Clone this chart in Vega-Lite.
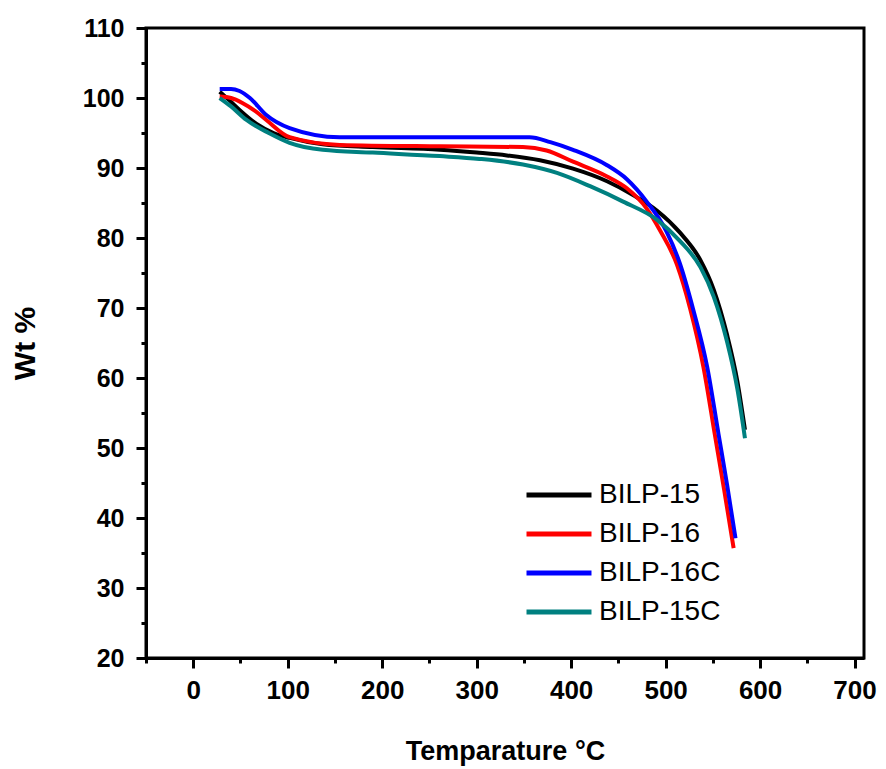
{
  "$schema": "https://vega.github.io/schema/vega-lite/v6.json",
  "width": 718,
  "height": 630,
  "autosize": {"type": "none"},
  "padding": {"left": 146, "top": 28, "right": 22, "bottom": 111},
  "background": "white",
  "config": {
    "view": {"stroke": "black", "strokeWidth": 3},
    "font": "Liberation Sans"
  },
  "data": {
    "values": [
      {"s": "BILP-15", "t": 28, "w": 100.9},
      {"s": "BILP-15", "t": 38, "w": 99.7},
      {"s": "BILP-15", "t": 49, "w": 98.3},
      {"s": "BILP-15", "t": 67, "w": 96.3},
      {"s": "BILP-15", "t": 85, "w": 95.0},
      {"s": "BILP-15", "t": 102, "w": 94.3},
      {"s": "BILP-15", "t": 137, "w": 93.4},
      {"s": "BILP-15", "t": 190, "w": 93.0},
      {"s": "BILP-15", "t": 261, "w": 92.6},
      {"s": "BILP-15", "t": 300, "w": 92.2},
      {"s": "BILP-15", "t": 332, "w": 91.8},
      {"s": "BILP-15", "t": 367, "w": 91.1},
      {"s": "BILP-15", "t": 402, "w": 89.9},
      {"s": "BILP-15", "t": 438, "w": 88.1},
      {"s": "BILP-15", "t": 466, "w": 86.1},
      {"s": "BILP-15", "t": 491, "w": 83.9},
      {"s": "BILP-15", "t": 515, "w": 80.8},
      {"s": "BILP-15", "t": 537, "w": 76.8},
      {"s": "BILP-15", "t": 551, "w": 72.6},
      {"s": "BILP-15", "t": 565, "w": 66.2},
      {"s": "BILP-15", "t": 576, "w": 59.5},
      {"s": "BILP-15", "t": 584, "w": 52.6},

      {"s": "BILP-16", "t": 28, "w": 100.2},
      {"s": "BILP-16", "t": 40, "w": 100.0},
      {"s": "BILP-16", "t": 52, "w": 99.3},
      {"s": "BILP-16", "t": 65, "w": 98.2},
      {"s": "BILP-16", "t": 77, "w": 96.9},
      {"s": "BILP-16", "t": 102, "w": 94.4},
      {"s": "BILP-16", "t": 155, "w": 93.3},
      {"s": "BILP-16", "t": 261, "w": 93.1},
      {"s": "BILP-16", "t": 349, "w": 93.0},
      {"s": "BILP-16", "t": 374, "w": 92.5},
      {"s": "BILP-16", "t": 402, "w": 90.9},
      {"s": "BILP-16", "t": 438, "w": 88.8},
      {"s": "BILP-16", "t": 459, "w": 87.1},
      {"s": "BILP-16", "t": 480, "w": 84.2},
      {"s": "BILP-16", "t": 494, "w": 81.1},
      {"s": "BILP-16", "t": 512, "w": 76.2},
      {"s": "BILP-16", "t": 526, "w": 69.9},
      {"s": "BILP-16", "t": 540, "w": 61.6},
      {"s": "BILP-16", "t": 552, "w": 52.0},
      {"s": "BILP-16", "t": 562, "w": 44.0},
      {"s": "BILP-16", "t": 572, "w": 35.7},

      {"s": "BILP-16C", "t": 28, "w": 101.3},
      {"s": "BILP-16C", "t": 40, "w": 101.3},
      {"s": "BILP-16C", "t": 49, "w": 101.0},
      {"s": "BILP-16C", "t": 60, "w": 100.0},
      {"s": "BILP-16C", "t": 77, "w": 97.6},
      {"s": "BILP-16C", "t": 102, "w": 95.7},
      {"s": "BILP-16C", "t": 155, "w": 94.4},
      {"s": "BILP-16C", "t": 261, "w": 94.4},
      {"s": "BILP-16C", "t": 356, "w": 94.4},
      {"s": "BILP-16C", "t": 378, "w": 93.7},
      {"s": "BILP-16C", "t": 402, "w": 92.6},
      {"s": "BILP-16C", "t": 438, "w": 90.4},
      {"s": "BILP-16C", "t": 459, "w": 88.4},
      {"s": "BILP-16C", "t": 480, "w": 85.2},
      {"s": "BILP-16C", "t": 501, "w": 80.9},
      {"s": "BILP-16C", "t": 515, "w": 76.4},
      {"s": "BILP-16C", "t": 529, "w": 69.9},
      {"s": "BILP-16C", "t": 544, "w": 61.6},
      {"s": "BILP-16C", "t": 556, "w": 52.0},
      {"s": "BILP-16C", "t": 565, "w": 44.8},
      {"s": "BILP-16C", "t": 574, "w": 37.1},

      {"s": "BILP-15C", "t": 28, "w": 100.0},
      {"s": "BILP-15C", "t": 40, "w": 98.8},
      {"s": "BILP-15C", "t": 56, "w": 96.9},
      {"s": "BILP-15C", "t": 80, "w": 95.0},
      {"s": "BILP-15C", "t": 102, "w": 93.6},
      {"s": "BILP-15C", "t": 137, "w": 92.6},
      {"s": "BILP-15C", "t": 190, "w": 92.2},
      {"s": "BILP-15C", "t": 261, "w": 91.7},
      {"s": "BILP-15C", "t": 303, "w": 91.3},
      {"s": "BILP-15C", "t": 349, "w": 90.5},
      {"s": "BILP-15C", "t": 385, "w": 89.3},
      {"s": "BILP-15C", "t": 420, "w": 87.4},
      {"s": "BILP-15C", "t": 455, "w": 85.2},
      {"s": "BILP-15C", "t": 491, "w": 82.6},
      {"s": "BILP-15C", "t": 515, "w": 79.6},
      {"s": "BILP-15C", "t": 537, "w": 75.8},
      {"s": "BILP-15C", "t": 551, "w": 71.6},
      {"s": "BILP-15C", "t": 565, "w": 65.2},
      {"s": "BILP-15C", "t": 576, "w": 58.4},
      {"s": "BILP-15C", "t": 584, "w": 51.4}
    ]
  },
  "mark": {"type": "line", "interpolate": "monotone", "strokeWidth": 4},
  "encoding": {
    "x": {
      "field": "t",
      "type": "quantitative",
      "scale": {"domain": [-50, 710], "nice": false, "zero": false},
      "axis": {
        "title": "Temparature °C",
        "values": [-50, 0, 50, 100, 150, 200, 250, 300, 350, 400, 450, 500, 550, 600, 650, 700],
        "labelExpr": "datum.value % 100 === 0 ? datum.label : ''",
        "labelOverlap": false,
        "labelFlush": false,
        "tickSize": {"expr": "datum.value % 100 === 0 ? 10 : 5"},
        "tickWidth": 3,
        "tickColor": "black",
        "domainColor": "black",
        "domainWidth": 3,
        "grid": false,
        "labelFont": "Liberation Sans",
        "labelFontWeight": "bold",
        "labelFontSize": 26,
        "labelColor": "black",
        "labelPadding": 9,
        "titleFont": "Liberation Sans",
        "titleFontWeight": "bold",
        "titleFontSize": 27,
        "titleColor": "black",
        "titlePadding": 35
      }
    },
    "y": {
      "field": "w",
      "type": "quantitative",
      "scale": {"domain": [20, 110], "nice": false, "zero": false},
      "axis": {
        "title": "Wt %",
        "values": [20, 25, 30, 35, 40, 45, 50, 55, 60, 65, 70, 75, 80, 85, 90, 95, 100, 105, 110],
        "labelExpr": "datum.value % 10 === 0 ? datum.label : ''",
        "labelOverlap": false,
        "labelFlush": false,
        "tickSize": {"expr": "datum.value % 10 === 0 ? 10 : 5"},
        "tickWidth": 3,
        "tickColor": "black",
        "domainColor": "black",
        "domainWidth": 3,
        "grid": false,
        "labelFont": "Liberation Sans",
        "labelFontWeight": "bold",
        "labelFontSize": 25,
        "labelColor": "black",
        "labelPadding": 12,
        "titleFont": "Liberation Sans",
        "titleFontWeight": "bold",
        "titleFontSize": 30,
        "titleColor": "black",
        "titlePadding": 42
      }
    },
    "color": {
      "field": "s",
      "type": "nominal",
      "scale": {
        "domain": ["BILP-15", "BILP-16", "BILP-16C", "BILP-15C"],
        "range": ["#000000", "#ff0000", "#0000ff", "#008080"]
      },
      "legend": {
        "title": null,
        "orient": "none",
        "legendX": 394,
        "legendY": 448,
        "symbolType": "M-2,0H2",
        "symbolSize": 1056,
        "symbolStrokeWidth": 5,
        "labelFont": "Liberation Sans",
        "labelFontSize": 28,
        "labelColor": "black",
        "labelOffset": 21,
        "rowPadding": 6,
        "labelLimit": 300
      }
    }
  }
}
